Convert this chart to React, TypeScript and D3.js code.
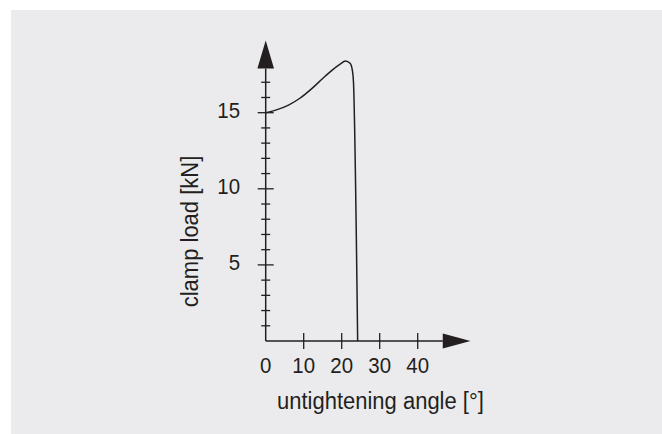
import React from "react";
import * as d3 from "d3";

const angle = [0, 3, 6, 9, 12.2, 15, 17.5, 19.5, 21, 22.2, 22.8, 23.1, 24.2];
const load = [15, 15.2, 15.5, 15.95, 16.6, 17.25, 17.8, 18.17, 18.4, 18.25, 17.8, 17.0, 0];
const xTicks = [0, 10, 20, 30, 40];
const yMinorTicks = d3.range(1, 18);
const yMajorTicks = [5, 10, 15];

const W = 662;
const H = 434;
const ink = "#231f20";
const font = "'Liberation Sans', Arial, sans-serif";

export default function App() {
  const x = d3.scaleLinear().domain([0, 40]).range([265.7, 417.7]);
  const y = d3.scaleLinear().domain([0, 15]).range([341, 112.7]);
  const x0 = x(0);
  const y0 = y(0);
  const xEnd = x(46.6);
  const xTip = x(53.9);
  const yEnd = y(17.9);
  const yTip = y(19.75);

  const line = d3
    .line<number>()
    .x((_, i) => x(angle[i]))
    .y((d) => y(d))
    .curve(d3.curveMonotoneX);

  return (
    <svg
      width={W}
      height={H}
      style={{ position: "absolute", left: 0, top: 0, background: "#ffffff" }}
    >
      <rect x={11} y={10} width={W - 11} height={H - 10} fill="#ebebed" />
      {/* axes */}
      <line x1={x0} y1={y0} x2={xEnd} y2={y0} stroke={ink} strokeWidth={1.5} />
      <line x1={x0} y1={y0} x2={x0} y2={yEnd} stroke={ink} strokeWidth={1.5} />
      <path
        d={`M${xEnd},${y0 - 7.5}L${xTip},${y0}L${xEnd},${y0 + 7.5}Z`}
        fill={ink}
      />
      <path
        d={`M${x0 - 8.3},${yEnd}L${x0},${yTip}L${x0 + 8.3},${yEnd}Z`}
        fill={ink}
      />
      {/* x ticks */}
      {xTicks.slice(1).map((t) => (
        <line
          key={"xt" + t}
          x1={x(t)}
          x2={x(t)}
          y1={y0 - 8}
          y2={y0 + 8}
          stroke={ink}
          strokeWidth={1.3}
        />
      ))}
      {xTicks.map((t) => (
        <text
          key={"xl" + t}
          transform={`translate(${x(t)},372.7) scale(0.95,1.05)`}
          textAnchor="middle"
          fontFamily={font}
          fontSize={21.5}
          fill={ink}
        >
          {t}
        </text>
      ))}
      {/* y ticks */}
      {yMinorTicks.map((t) => {
        const major = yMajorTicks.includes(t);
        return (
          <line
            key={"yt" + t}
            x1={x0 - (major ? 8 : 4.5)}
            x2={x0 + (major ? 8 : 4.5)}
            y1={y(t)}
            y2={y(t)}
            stroke={ink}
            strokeWidth={1.3}
          />
        );
      })}
      {yMajorTicks.map((t) => (
        <text
          key={"yl" + t}
          transform={`translate(240,${y(t) + 5.5}) scale(0.95,1.05)`}
          textAnchor="end"
          fontFamily={font}
          fontSize={21.5}
          fill={ink}
        >
          {t}
        </text>
      ))}
      {/* curve */}
      <path d={line(load) || ""} fill="none" stroke={ink} strokeWidth={1.5} />
      {/* titles */}
      <text
        transform={`translate(197.5,231.5) rotate(-90) scale(1,1.12)`}
        textAnchor="middle"
        fontFamily={font}
        fontSize={22}
        fill={ink}
      >
        clamp load [kN]
      </text>
      <text
        transform={`translate(277,409.3) scale(1,1.12)`}
        fontFamily={font}
        fontSize={22}
        fill={ink}
      >
        untightening angle [°]
      </text>
    </svg>
  );
}
